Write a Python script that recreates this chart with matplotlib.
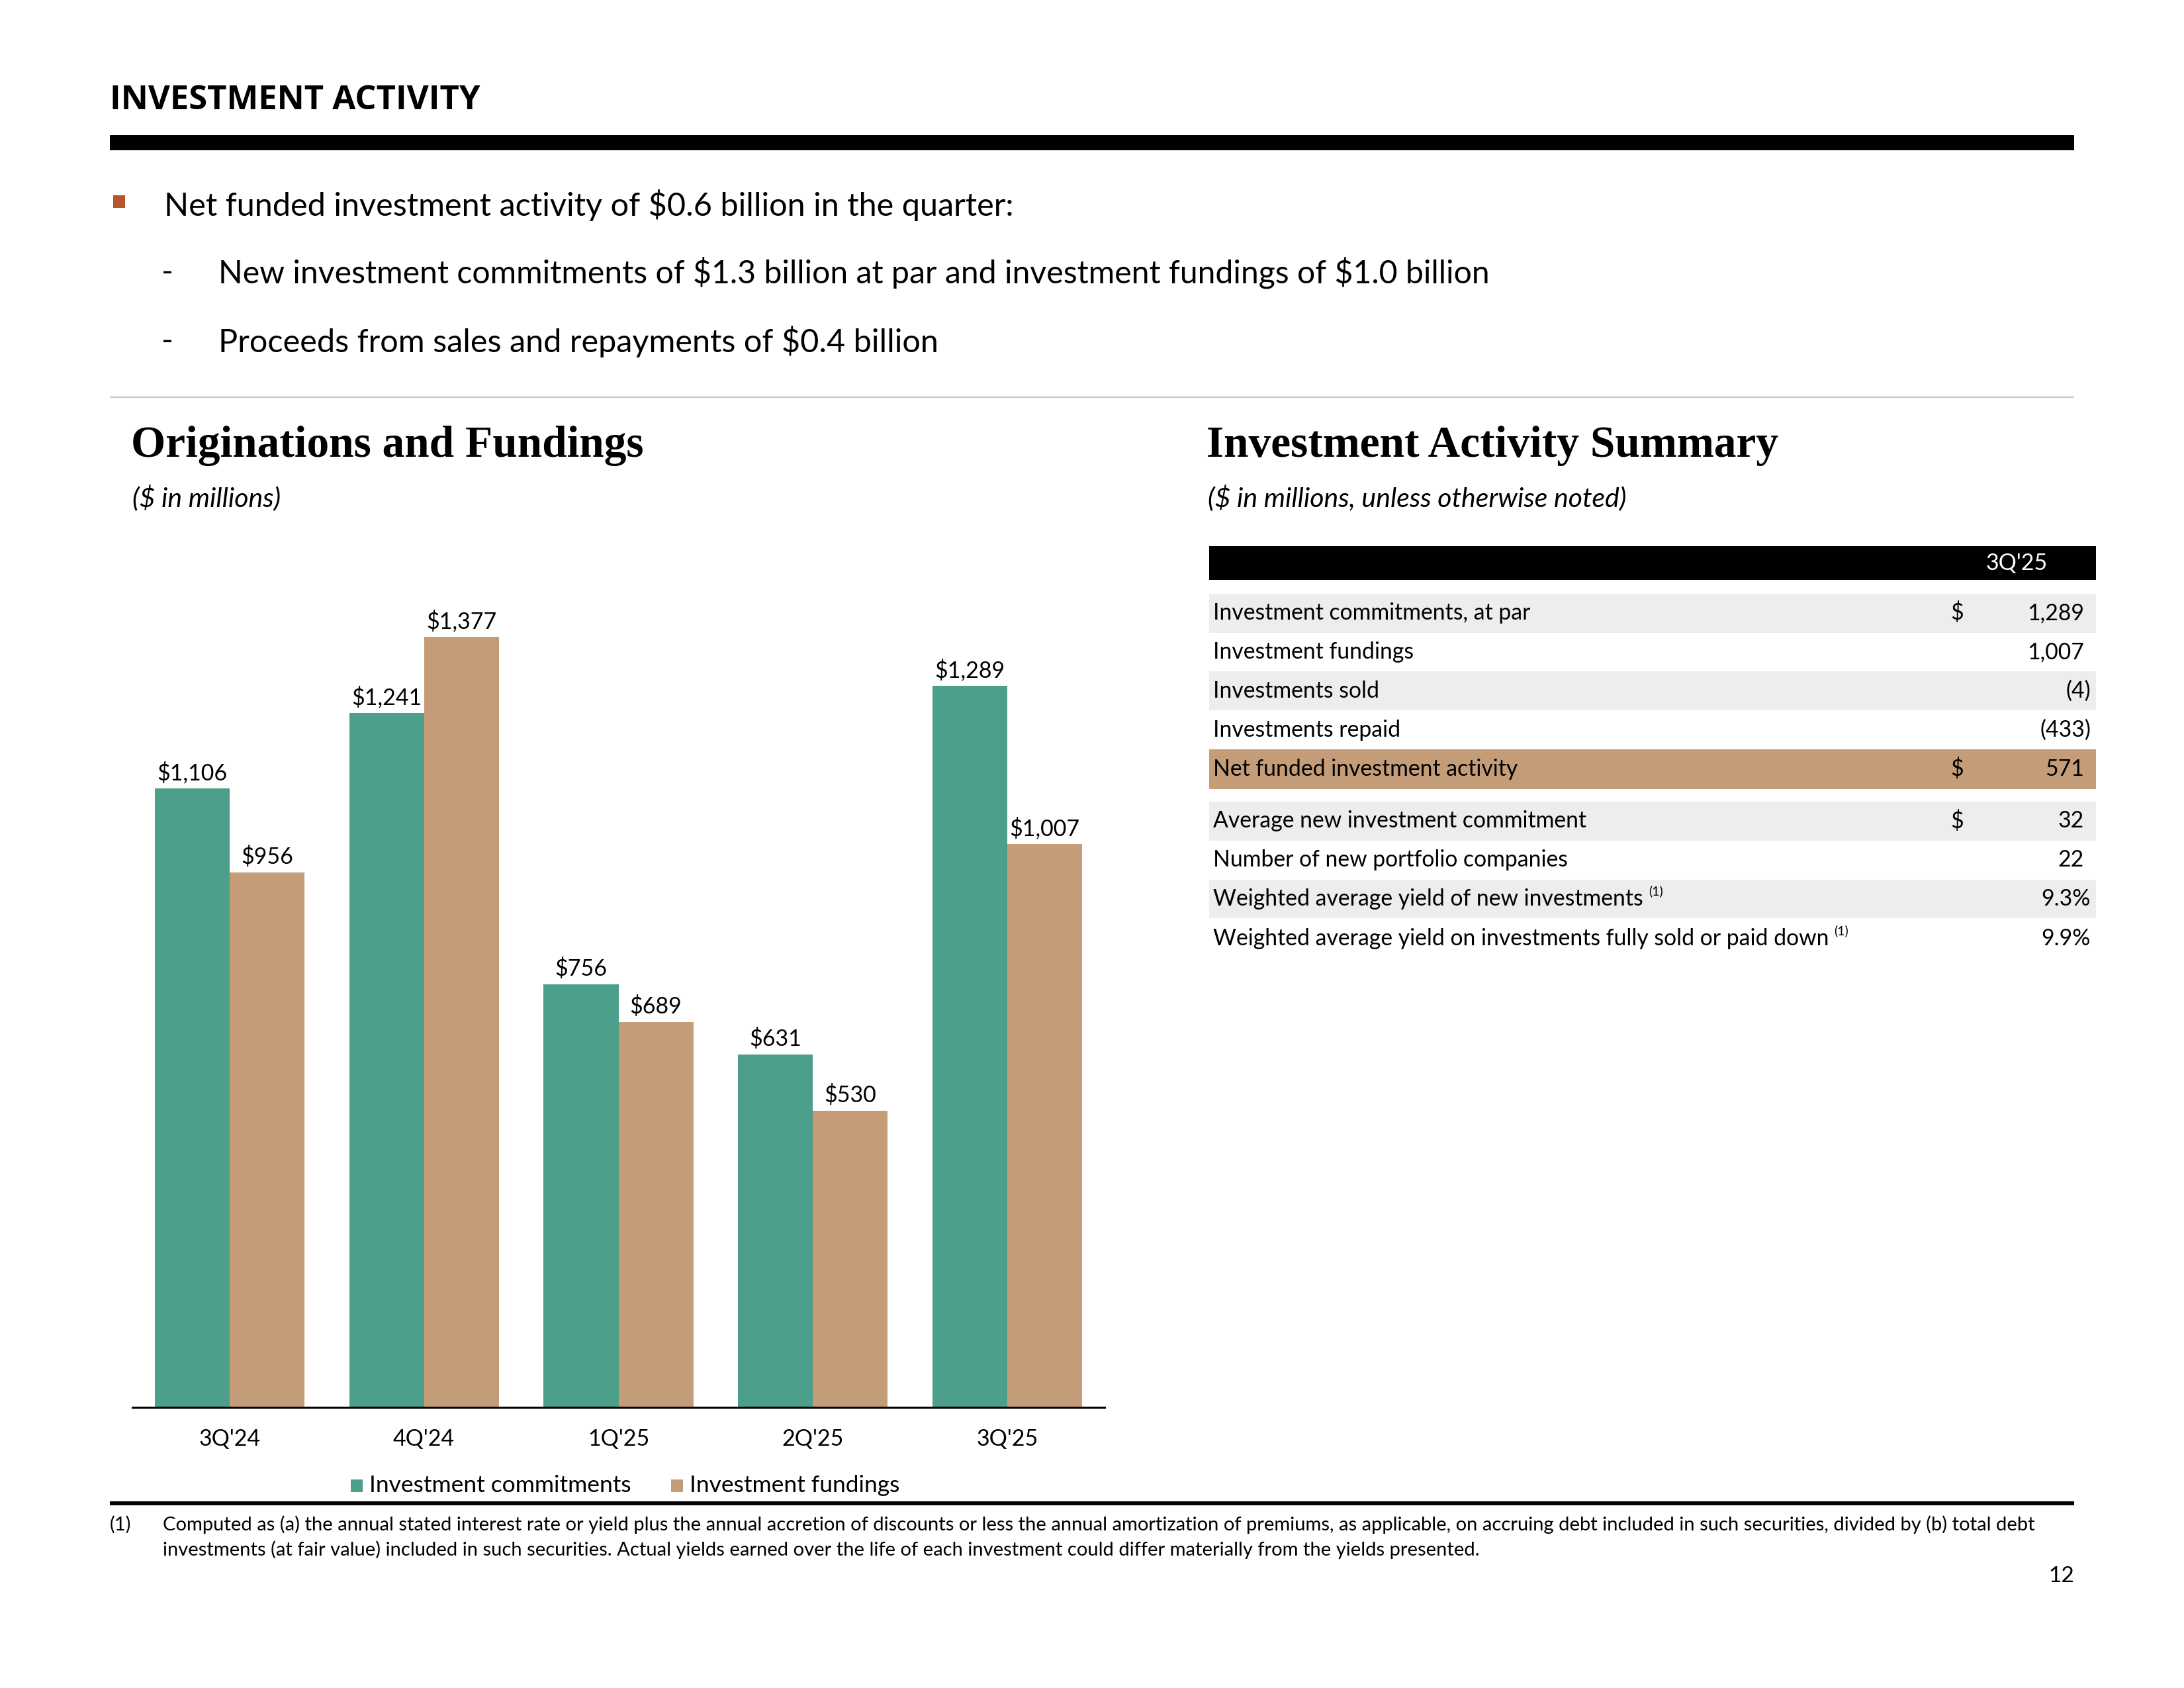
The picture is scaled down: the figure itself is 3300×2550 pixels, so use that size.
import matplotlib
matplotlib.use("Agg")
import matplotlib.pyplot as plt
from matplotlib.patches import Rectangle
from matplotlib import font_manager

plt.rcParams["text.parse_math"] = False

# ---------------- data ----------------
quarters = ["3Q'24", "4Q'24", "1Q'25", "2Q'25", "3Q'25"]
commitments = [1106, 1241, 756, 631, 1289]
fundings = [956, 1377, 689, 530, 1007]
series_names = ["Investment commitments", "Investment fundings"]

table_labels = [
    "Investment commitments, at par",
    "Investment fundings",
    "Investments sold",
    "Investments repaid",
    "Net funded investment activity",
    "Average new investment commitment",
    "Number of new portfolio companies",
    "Weighted average yield of new investments",
    "Weighted average yield on investments fully sold or paid down",
]
table_dollar = ["$", "", "", "", "$", "$", "", "", ""]
table_values = ["1,289", "1,007", "(4)", "(433)", "571", "32", "22", "9.3%", "9.9%"]
table_footref = ["", "", "", "", "", "", "", "(1)", "(1)"]
table_header = "3Q'25"

bullets = [
    "Net funded investment activity of $0.6 billion in the quarter:",
    "New investment commitments of $1.3 billion at par and investment fundings of $1.0 billion",
    "Proceeds from sales and repayments of $0.4 billion",
]
footnote_lines = [
    "Computed as (a) the annual stated interest rate or yield plus the annual accretion of discounts or less the annual amortization of premiums, as applicable, on accruing debt included in such securities, divided by (b) total debt",
    "investments (at fair value) included in such securities. Actual yields earned over the life of each investment could differ materially from the yields presented.",
]

# ---------------- style ----------------
GREEN = "#4C9F8A"
TAN = "#C49C78"
ROWGRAY = "#EDEDED"
BULLET = "#B5562B"

names = {f.name for f in font_manager.fontManager.ttflist}
BODY = "Lato" if "Lato" in names else "DejaVu Sans"
SERIF = "Liberation Serif" if "Liberation Serif" in names else "DejaVu Serif"
HEAD = "Open Sans" if "Open Sans" in names else "DejaVu Sans"
LW = "normal"

W, H = 3300, 2550
fig = plt.figure(figsize=(W / 100, H / 100), dpi=100)


def fx(x):
    return x / W


def fy(y):
    return 1 - y / H


def T(x, y, s, **kw):
    kw.setdefault("family", BODY)
    kw.setdefault("weight", LW)
    kw.setdefault("va", "center")
    kw.setdefault("color", "black")
    return fig.text(fx(x), fy(y), s, **kw)


def rect(x0, y0, x1, y1, color):
    fig.patches.append(Rectangle((fx(x0), fy(y1)), fx(x1) - fx(x0), fy(y0) - fy(y1),
                                 transform=fig.transFigure, color=color, lw=0, zorder=0))


# ---------------- header ----------------
T(166, 152, "INVESTMENT ACTIVITY", family=HEAD, weight="bold", size=36.5)
rect(166, 204, 3134, 227, "black")

rect(171, 295, 189, 314, BULLET)
T(248, 310, bullets[0], size=35)
T(244, 412, "-", size=35)
T(330, 412, bullets[1], size=34.7)
T(244, 516, "-", size=35)
T(330, 516, bullets[2], size=35)
rect(166, 599, 3134, 601, "#C8C8CC")

# section titles
T(198, 673, "Originations and Fundings", family=SERIF, weight="bold", size=48.5)
T(200, 752, "($ in millions)", size=29.5, style="italic")
T(1823, 673, "Investment Activity Summary", family=SERIF, weight="bold", size=48.5)
T(1825, 752, "($ in millions, unless otherwise noted)", size=29.5, style="italic")

# ---------------- bar chart ----------------
ax = fig.add_axes([fx(200), 424 / H, (1669 - 200) / W, 1246 / H])
x = list(range(len(quarters)))
bw = 0.385
b1 = ax.bar([i - bw / 2 for i in x], commitments, bw, color=GREEN, label=series_names[0])
b2 = ax.bar([i + bw / 2 for i in x], fundings, bw, color=TAN, label=series_names[1])
for bars, vals in ((b1, commitments), (b2, fundings)):
    for r, v in zip(bars, vals):
        ax.annotate(f"${v:,}", (r.get_x() + r.get_width() / 2, v), xytext=(0, 5),
                    textcoords="offset points", ha="center", va="bottom",
                    family=BODY, weight=LW, size=24.5)
ax.set_xlim(-0.5, 4.5)
ax.set_ylim(0, 1474)
ax.set_xticks(x)
ax.set_xticklabels(quarters, family=BODY, weight=LW, size=24.5)
ax.tick_params(axis="x", length=0, pad=23)
ax.set_yticks([])
for s in ("top", "left", "right"):
    ax.spines[s].set_visible(False)
ax.spines["bottom"].set_linewidth(2.2)
ax.spines["bottom"].set_color("black")

# legend (manual)
rect(530, 2235, 548, 2254, GREEN)
T(558, 2244, series_names[0], size=25.5)
rect(1014, 2235, 1032, 2254, TAN)
T(1042, 2244, series_names[1], size=25.5)

# ---------------- table ----------------
TX0, TX1 = 1827, 3167
rect(TX0, 825, TX1, 876, "black")
T(3094, 851, table_header, size=24.5, color="white", ha="right")

row_centers = [926, 985, 1044, 1103, 1162, 1240, 1299, 1358, 1418]
RH = 59
row_bg = [ROWGRAY, None, ROWGRAY, None, TAN, ROWGRAY, None, ROWGRAY, None]
label_texts = []
for yc, lab, dol, val, bg in zip(row_centers, table_labels, table_dollar, table_values, row_bg):
    if bg:
        rect(TX0, yc - RH / 2, TX1, yc + RH / 2, bg)
    label_texts.append(T(1833, yc, lab, size=24.3))
    if dol:
        T(2957, yc, dol, size=24.3, ha="center")
    xr = 3159 if (val.endswith(")") or val.endswith("%")) else 3149
    T(xr, yc, val, size=24.3, ha="right")

# footnote superscripts placed after label text
fig.canvas.draw()
rend = fig.canvas.get_renderer()
for txt, ref in zip(label_texts, table_footref):
    if ref:
        bb = txt.get_window_extent(rend)
        T(bb.x1 + 8, H - bb.y1 + 4, ref, size=14)

# ---------------- footnote ----------------
rect(166, 2268, 3134, 2274, "black")
T(166, 2303, "(1)", size=21)
T(246, 2303, footnote_lines[0], size=21)
T(246, 2341, footnote_lines[1], size=21)
T(3134, 2381, "12", size=24, ha="right")

fig.savefig("out.png", dpi=100, facecolor="white")
